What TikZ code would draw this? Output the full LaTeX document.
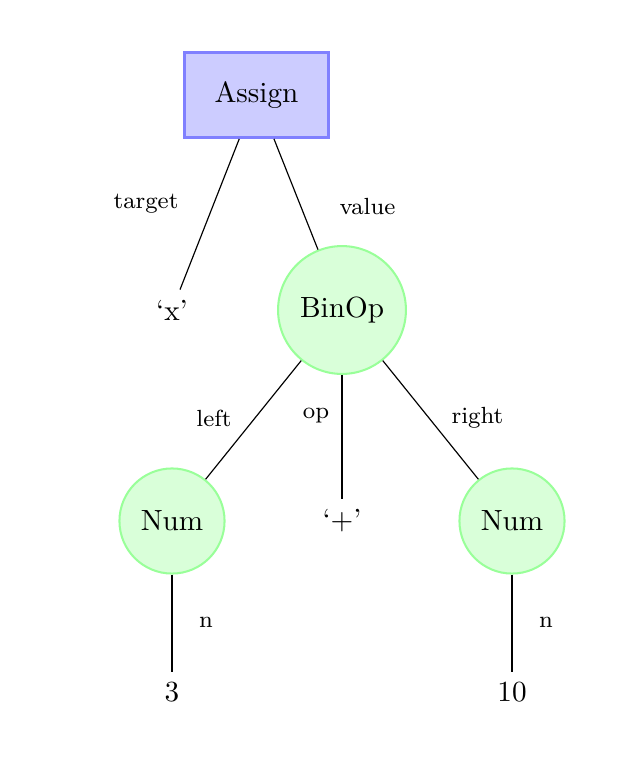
\documentclass[tikz,border=0pt]{standalone}
\begin{document}
\begin{tikzpicture}[x=0.3425pt,y=-0.3425pt,
  assignbox/.style={rectangle, draw=blue!50, fill=blue!20, line width=1.1pt,
    minimum width=49.5pt, minimum height=29pt, inner sep=0pt},
  opcircle/.style={circle, draw=green!40, fill=green!15, line width=0.7pt,
    minimum size=43.8pt, inner sep=0pt},
  numcircle/.style={circle, draw=green!40, fill=green!15, line width=0.7pt,
    minimum size=36pt, inner sep=0pt},
  leafnode/.style={inner sep=3.33pt},
  lbl/.style={font=\footnotesize, inner sep=0pt},
  conn/.style={draw=black, line width=0.4pt}]
\useasboundingbox (0,0) rectangle (636,778);
% nodes
\node[assignbox] (assign) at (256.5,95) {Assign};
\node[leafnode] (x) at (172,310) {`x'};
\node[opcircle] (binop) at (342,310) {BinOp};
\node[numcircle] (numl) at (172,521) {Num};
\node[leafnode] (plus) at (342,521) {`+'};
\node[numcircle] (numr) at (512,521) {Num};
\node[leafnode] (three) at (172,692) {3};
\node[leafnode] (ten) at (512,692) {10};
% connectors
\draw[conn] (assign) -- (x);
\draw[conn] (assign) -- (binop);
\draw[conn] (binop) -- (numl);
\draw[conn] (binop) -- (plus);
\draw[conn] (binop) -- (numr);
\draw[conn] (numl) -- (three);
\draw[conn] (numr) -- (ten);
% labels
\node[lbl] (ltarget) at (146,204) {target};
\node[lbl] (lvalue) at (367.5,207) {value};
\node[lbl] (lleft) at (214,418) {left};
\node[lbl] (lop) at (316,416) {op};
\node[lbl] (lright) at (477.5,418) {right};
\node[lbl] (ln1) at (206,622) {n};
\node[lbl] (ln2) at (546,622) {n};
\end{tikzpicture}
\end{document}
